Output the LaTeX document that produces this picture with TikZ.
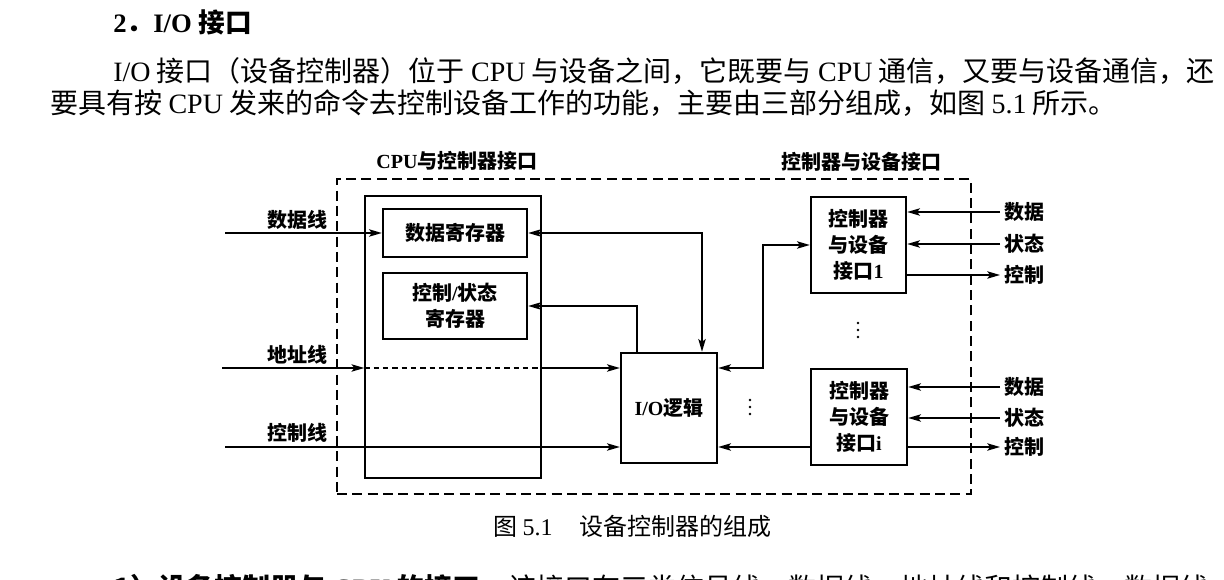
\documentclass[tikz,border=0pt]{standalone}
\usepackage{fontspec}
\setmainfont{Liberation Serif}
\newfontfamily\cjk{Noto Sans CJK SC}
\usetikzlibrary{arrows.meta}
\newcommand\en[1]{{\rmfamily #1}}
\newcommand\lab{\fontsize{15}{19.5}\selectfont\bfseries\cjk}
\newcommand\bodyfont{\fontsize{21}{28}\selectfont\cjk}
\tikzset{
  box/.style={draw, line width=1.8pt, inner sep=0pt, align=center, font=\lab},
  conn/.style={line width=1.2pt},
  arr/.style={conn, -{Stealth[length=9.5pt,width=5.5pt,inset=2pt]}},
  darr/.style={conn, {Stealth[length=9.5pt,width=5.5pt,inset=2pt]}-{Stealth[length=9.5pt,width=5.5pt,inset=2pt]}},
  lbl/.style={font=\lab, inner sep=2pt},
  rlbl/.style={font=\lab, inner sep=3pt, anchor=west},
  dotmark/.style={fill=black},
}
\begin{document}
\begin{tikzpicture}[x=0.75pt,y=-0.75pt]
\useasboundingbox (0,0) rectangle (1224,580);

% text above
\node[anchor=base west, inner sep=0pt, font=\fontsize{20}{26}\selectfont\bfseries] (head) at (113,33)
  {\en{2}{\cjk ．}\en{I/O} {\cjk 接口}};
\node[anchor=base west, inner sep=0pt, font=\bodyfont] (p1) at (113,82)
  {\en{I/O} 接口（设备控制器）位于 \en{CPU} 与设备之间，它既要与 \en{CPU} 通信，又要与设备通信，还};
\node[anchor=base west, inner sep=0pt, font=\bodyfont] (p2) at (50,114)
  {要具有按 \en{CPU} 发来的命令去控制设备工作的功能，主要由三部分组成，如图 \en{5.1} 所示。};

% containers
\node[draw, dashed, dash pattern=on 7.5pt off 4pt, line width=1.4pt, minimum width=475.5pt, minimum height=236.25pt, inner sep=0pt] (outer) at (654,336.5) {};
\node[draw, line width=1.1pt, minimum width=132pt, minimum height=211.5pt, inner sep=0pt] (inner) at (453,337) {};
\node[lbl] (tcpu) at (457,161) {\en{CPU}与控制器接口};
\node[lbl] (tdev) at (861,162) {控制器与设备接口};

% boxes
\node[box, minimum width=108pt, minimum height=36pt] (dreg) at (455,233) {数据寄存器};
\node[box, minimum width=108pt, minimum height=49.5pt] (creg) at (455,306) {控制\en{/}状态\\寄存器};
\node[box, minimum width=72pt, minimum height=82.5pt] (io) at (669,408) {\en{I/O}逻辑};
\node[box, minimum width=71.25pt, minimum height=72pt] (b1) at (858.5,245) {控制器\\与设备\\接口\en{1}};
\node[box, minimum width=72pt, minimum height=72pt] (bi) at (859,417) {控制器\\与设备\\接口\en{i}};

% left labels and lines
\coordinate (dl) at (225,233);
\coordinate (al) at (222,368);
\coordinate (cl) at (225,447);
\node[lbl, anchor=east] (tdl) at (330,220) {数据线};
\node[lbl, anchor=east] (tal) at (330,355) {地址线};
\node[lbl, anchor=east] (tcl) at (330,433) {控制线};
\draw[arr] (dl) -- (dreg.west);
\draw[arr] (al) -- (al -| inner.west);
\draw[conn, dash pattern=on 4pt off 3pt] (al -| inner.west) -- (al -| inner.east);
\draw[arr] (al -| inner.east) -- (al -| io.west);
\draw[arr] (cl) -- (cl -| io.west);

% inner connections
\coordinate (x702) at (702,0);
\coordinate (x637) at (637,0);
\coordinate (x763) at (763,0);
\draw[darr] (dreg.east) -| (io.north -| x702);
\draw[arr] (io.north -| x637) |- (creg.east);
\draw[darr] (b1.west) -- (b1.west -| x763) |- (io.east |- al);
\draw[arr] (bi.west |- cl) -- (io.east |- cl);

% right side labels
\node[rlbl] (d1) at (1000,212) {数据};
\node[rlbl] (s1) at (1000,244) {状态};
\node[rlbl] (c1) at (1000,275) {控制};
\node[rlbl] (d2) at (1000,387) {数据};
\node[rlbl] (s2) at (1000,418) {状态};
\node[rlbl] (c2) at (1000,447) {控制};
\draw[arr] (d1.west) -- (d1.west -| b1.east);
\draw[arr] (s1.west) -- (s1.west -| b1.east);
\draw[arr] (c1.west -| b1.east) -- (c1.west);
\draw[arr] (d2.west) -- (d2.west -| bi.east);
\draw[arr] (s2.west) -- (s2.west -| bi.east);
\draw[arr] (c2.west -| bi.east) -- (c2.west);

% ellipsis dots
\foreach \yy in {323,330,337} \fill[dotmark] (858,\yy) circle (1.1pt);
\foreach \yy in {400,407,414} \fill[dotmark] (750,\yy) circle (1.1pt);

% caption
\node[anchor=base west, inner sep=0pt, font=\fontsize{18}{22}\selectfont\cjk] (cap) at (493,535)
  {图 \en{5.1}\hspace{20pt}设备控制器的组成};

% cut-off next paragraph
\node[anchor=base west, inner sep=0pt, font=\bodyfont] (p3) at (113,598)
  {{\bfseries 1）设备控制器与 \en{CPU} 的接口。}该接口有三类信号线：数据线、地址线和控制线。数据线};
\end{tikzpicture}
\end{document}
